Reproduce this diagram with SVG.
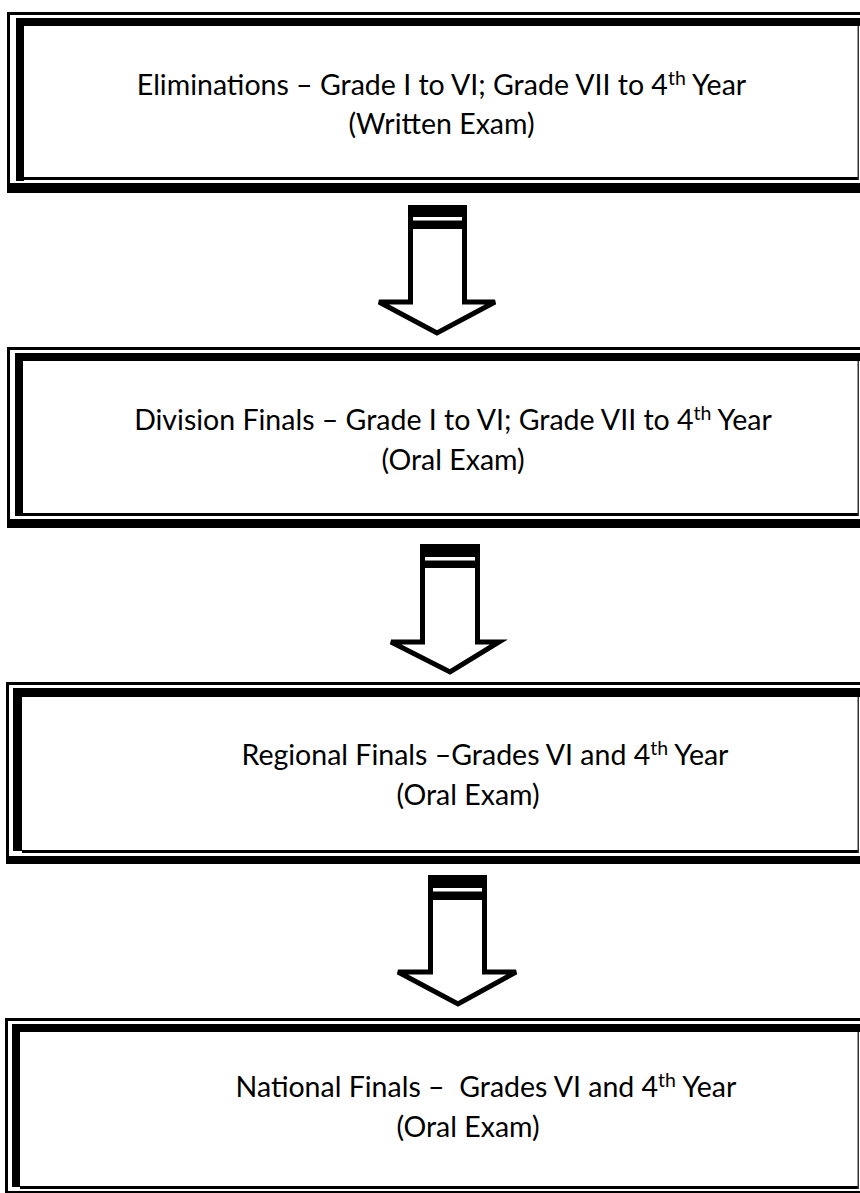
<svg xmlns="http://www.w3.org/2000/svg" width="860" height="1193" viewBox="0 0 860 1193">
<style>
  .bk { fill: #000; }
  .thin { fill: #333; }
  .lbl { font-family: Lato, "Open Sans", "Liberation Sans", sans-serif; font-size: 28.5px; fill: #000; text-anchor: middle; }
  .sup { font-size: 19.5px; }
  .arrow { fill: #fff; stroke: #000; stroke-width: 5; stroke-linejoin: miter; }
</style>
<rect width="860" height="1193" fill="#fff"/>

<g id="node1">
  <rect class="bk" x="7" y="12" width="3" height="181"/>
  <rect class="bk" x="7" y="12" width="853" height="3"/>
  <rect class="bk" x="16" y="18" width="8" height="163"/>
  <rect class="bk" x="16" y="18" width="844" height="8"/>
  <rect class="bk" x="23" y="177" width="836" height="3"/>
  <rect class="thin" x="857.5" y="26" width="1.5" height="154"/>
  <rect class="bk" x="7" y="183" width="853" height="10"/>
  <text class="lbl" x="441.5" y="95">Eliminations – Grade I to VI; Grade VII to 4<tspan class="sup" dy="-10">th</tspan><tspan dy="10"> Year</tspan></text>
  <text class="lbl" x="441.5" y="134">(Written Exam)</text>
</g>

<g id="node2">
  <rect class="bk" x="7" y="347" width="3" height="181"/>
  <rect class="bk" x="7" y="347" width="853" height="3"/>
  <rect class="bk" x="15" y="353" width="8" height="163"/>
  <rect class="bk" x="15" y="353" width="845" height="8"/>
  <rect class="bk" x="23" y="513" width="836" height="3"/>
  <rect class="thin" x="857.5" y="361" width="1.5" height="155"/>
  <rect class="bk" x="7" y="519" width="853" height="9"/>
  <text class="lbl" x="453" y="430">Division Finals – Grade I to VI; Grade VII to 4<tspan class="sup" dy="-10">th</tspan><tspan dy="10"> Year</tspan></text>
  <text class="lbl" x="453" y="470">(Oral Exam)</text>
</g>

<g id="node3">
  <rect class="bk" x="6" y="682" width="3" height="181"/>
  <rect class="bk" x="6" y="682" width="854" height="3"/>
  <rect class="bk" x="13" y="688" width="9" height="163"/>
  <rect class="bk" x="13" y="688" width="847" height="9"/>
  <rect class="bk" x="22" y="850" width="837" height="3"/>
  <rect class="thin" x="857.5" y="697" width="1.5" height="156"/>
  <rect class="bk" x="6" y="856" width="854" height="8"/>
  <text class="lbl" x="485" y="765">Regional Finals –Grades VI and 4<tspan class="sup" dy="-10">th</tspan><tspan dy="10"> Year</tspan></text>
  <text class="lbl" x="468" y="805">(Oral Exam)</text>
</g>

<g id="node4">
  <rect class="bk" x="5" y="1018" width="3" height="175"/>
  <rect class="bk" x="5" y="1018" width="855" height="3"/>
  <rect class="bk" x="12" y="1024" width="8" height="163"/>
  <rect class="bk" x="12" y="1024" width="848" height="8"/>
  <rect class="bk" x="20" y="1186" width="839" height="3"/>
  <rect class="thin" x="857.5" y="1032" width="1.5" height="157"/>
  <rect class="bk" x="5" y="1191" width="855" height="2"/>
  <text class="lbl" x="486" y="1097" style="white-space:pre">National Finals –  Grades VI and 4<tspan class="sup" dy="-10">th</tspan><tspan dy="10"> Year</tspan></text>
  <text class="lbl" x="468" y="1137">(Oral Exam)</text>
</g>

<g id="connectors">
  <g id="arrow1">
    <polygon class="arrow" points="410.5,207.5 464.5,207.5 464.5,302 495,302 437,333 379,302 410.5,302"/>
    <rect class="bk" x="408" y="205" width="59" height="24"/>
    <rect fill="#fff" x="413" y="217" width="49" height="3.5"/>
  </g>
  <g id="arrow2">
    <polygon class="arrow" points="422.5,546.5 477.5,546.5 477.5,642 499,642 450,672 391,642 422.5,642"/>
    <rect class="bk" x="420" y="544" width="60" height="24"/>
    <rect fill="#fff" x="425" y="557" width="50" height="3.5"/>
  </g>
  <g id="arrow3">
    <polygon class="arrow" points="430.5,877.5 484.5,877.5 484.5,972 516,972 458,1004 398,972 430.5,972"/>
    <rect class="bk" x="428" y="875" width="59" height="25"/>
    <rect fill="#fff" x="433" y="888" width="49" height="3.5"/>
  </g>
</g>
</svg>
